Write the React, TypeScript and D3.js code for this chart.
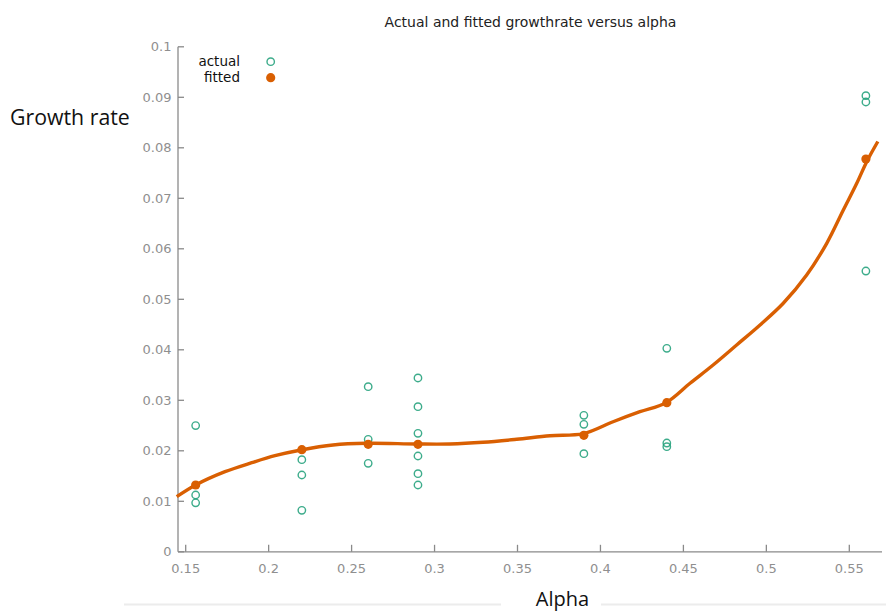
import React from "react";
import * as d3 from "d3";

const W = 886;
const H = 613;

const xTicks = [0.15, 0.2, 0.25, 0.3, 0.35, 0.4, 0.45, 0.5, 0.55];
const yTicks = [0, 0.01, 0.02, 0.03, 0.04, 0.05, 0.06, 0.07, 0.08, 0.09, 0.1];

// actual observations
const actualX = [
  0.156, 0.156, 0.156,
  0.22, 0.22, 0.22,
  0.26, 0.26, 0.26,
  0.29, 0.29, 0.29, 0.29, 0.29, 0.29,
  0.39, 0.39, 0.39,
  0.44, 0.44, 0.44,
  0.56, 0.56, 0.56,
];
const actualY = [
  0.0250, 0.01125, 0.0097,
  0.01824, 0.01521, 0.00822,
  0.03269, 0.02228, 0.01752,
  0.03442, 0.02873, 0.02347, 0.01897, 0.01547, 0.01323,
  0.02703, 0.02525, 0.01943,
  0.0403, 0.02154, 0.02081,
  0.09032, 0.08907, 0.0556,
];

// fitted values
const fittedX = [0.156, 0.22, 0.26, 0.29, 0.39, 0.44, 0.56];
const fittedY = [0.01323, 0.02022, 0.02129, 0.02129, 0.02307, 0.02952, 0.07778];

// fitted curve
const curveX = [
  0.1446, 0.156, 0.1737, 0.1898, 0.2038, 0.2195, 0.2388, 0.2591, 0.2892,
  0.3093, 0.3292, 0.3495, 0.3696, 0.3897, 0.4076, 0.4238, 0.4395, 0.454,
  0.4679, 0.4821, 0.4962, 0.5102, 0.5243, 0.5364, 0.5464, 0.5545, 0.5605, 0.5672,
];
const curveY = [
  0.01091, 0.01323, 0.01586, 0.01764, 0.01903, 0.02016, 0.02115, 0.02149, 0.02135,
  0.02135, 0.02168, 0.02228, 0.02299, 0.0234, 0.02576, 0.02774, 0.02952, 0.03337,
  0.03699, 0.04095, 0.04491, 0.04921, 0.05480, 0.06109, 0.06768, 0.07297, 0.07725, 0.08125,
];

const GREEN = "#1b9e77";
const ORANGE = "#d95f02";
const AXIS = "#8a8a8a";
const TICKTXT = "#8f8f8f";
const FONT = "'DejaVu Sans', Verdana, sans-serif";
const LABELFONT = "'Open Sans', 'Noto Sans', sans-serif";

export default function App() {
  const left = 178;
  const right = 882;
  const top = 46.8;
  const bottom = 551.8;

  const x = d3
    .scaleLinear()
    .domain([0.15, 0.55])
    .range([185.7, 849.3]);
  const y = d3.scaleLinear().domain([0, 0.1]).range([bottom, top]);

  const line = d3
    .line<number>()
    .x((_, i) => x(curveX[i]))
    .y((d) => y(d))
    .curve(d3.curveCatmullRom.alpha(0.5));

  return (
    <svg
      width={W}
      height={H}
      style={{ position: "absolute", left: 0, top: 0, background: "#fff" }}
    >
      <rect x={0} y={0} width={W} height={H} fill="#fff" />
      {/* title */}
      <text
        x={530.5}
        y={27}
        textAnchor="middle"
        fontFamily={FONT}
        fontSize={14}
        fill="#222"
      >
        Actual and fitted growthrate versus alpha
      </text>

      {/* axes */}
      <line x1={left} x2={left} y1={top} y2={bottom} stroke={AXIS} strokeWidth={1.3} />
      <line x1={left} x2={right} y1={bottom} y2={bottom} stroke={AXIS} strokeWidth={1.3} />
      {yTicks.map((t) => (
        <g key={"y" + t}>
          <line x1={left} x2={left + 6} y1={y(t)} y2={y(t)} stroke={AXIS} strokeWidth={1.3} />
          <text
            x={171.5}
            y={y(t)}
            dy="0.35em"
            textAnchor="end"
            fontFamily={FONT}
            fontSize={13}
            fill={TICKTXT}
          >
            {d3.format("")(t)}
          </text>
        </g>
      ))}
      {xTicks.map((t) => (
        <g key={"x" + t}>
          <line x1={x(t)} x2={x(t)} y1={bottom} y2={bottom - 7} stroke={AXIS} strokeWidth={1.3} />
          <text
            x={x(t)}
            y={568.5}
            dy="0.35em"
            textAnchor="middle"
            fontFamily={FONT}
            fontSize={13}
            fill={TICKTXT}
          >
            {d3.format("")(t)}
          </text>
        </g>
      ))}

      {/* axis labels */}
      <text x={10} y={125} fontFamily={LABELFONT} fontSize={21.3} fill="#111">
        Growth rate
      </text>
      <line x1={124} x2={501} y1={604.5} y2={604.5} stroke="#ececec" strokeWidth={2} />
      <line x1={601} x2={886} y1={604.5} y2={604.5} stroke="#ececec" strokeWidth={2} />
      <text x={562.5} y={606} textAnchor="middle" fontFamily={LABELFONT} fontSize={20} fill="#111">
        Alpha
      </text>

      {/* fitted curve */}
      <path d={line(curveY) || ""} fill="none" stroke={ORANGE} strokeWidth={3.4} strokeLinejoin="round" />

      {/* actual points */}
      {actualY.map((v, i) => (
        <circle
          key={"a" + i}
          cx={x(actualX[i])}
          cy={y(v)}
          r={3.7}
          fill="none"
          stroke={GREEN}
          strokeWidth={1.4}
          opacity={0.85}
        />
      ))}
      {/* fitted points */}
      {fittedY.map((v, i) => (
        <circle key={"f" + i} cx={x(fittedX[i])} cy={y(v)} r={4.6} fill={ORANGE} />
      ))}

      {/* legend */}
      <text x={240} y={61.7} dy="0.35em" textAnchor="end" fontFamily={FONT} fontSize={13.5} fill="#111">
        actual
      </text>
      <circle cx={270.7} cy={61.7} r={3.7} fill="none" stroke={GREEN} strokeWidth={1.4} opacity={0.85} />
      <text x={240} y={77.7} dy="0.35em" textAnchor="end" fontFamily={FONT} fontSize={13.5} fill="#111">
        fitted
      </text>
      <circle cx={270.7} cy={77.7} r={4.6} fill={ORANGE} />
    </svg>
  );
}
